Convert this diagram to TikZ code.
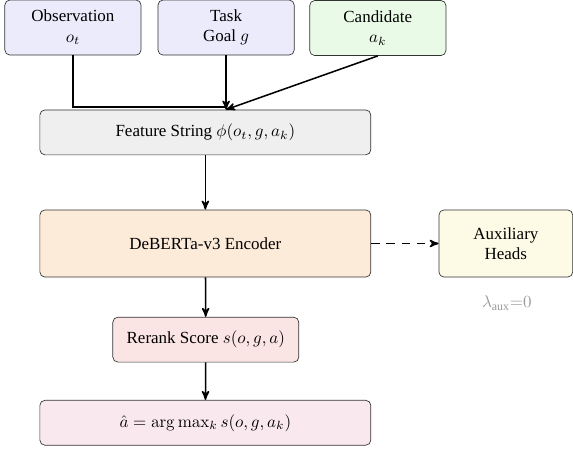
\documentclass[tikz,border=0pt]{standalone}
\usepackage{amsmath}
\usepackage[no-math]{fontspec}
\setmainfont{Liberation Serif}
\usepackage{tikz}
\usetikzlibrary{positioning}
\usetikzlibrary{arrows}
\definecolor{inblue}{HTML}{EBEBFC}
\definecolor{candgreen}{HTML}{E9FBE6}
\definecolor{featgray}{HTML}{EFEFEF}
\definecolor{encorange}{HTML}{FDEBD9}
\definecolor{auxyellow}{HTML}{FDFBE6}
\definecolor{scorered}{HTML}{FBE4E4}
\definecolor{argpink}{HTML}{F9E9EE}
\tikzset{every edge/.style={ % Sets the properties for each connector
    draw,
    ->,>=stealth', % Directed edges with bold arrowheads
    thick}}

\begin{document}
\begin{tikzpicture}[
            stagebox/.style={rectangle, rounded corners=3pt, draw=black!80, minimum height=0.93cm, align=center},
            inputbox/.style={stagebox, minimum width=2.82cm, minimum height=1.14cm},
            widebox/.style={stagebox, minimum width=6.85cm},
            flow/.style={line width=0.9pt, ->, >=stealth'}
        ]
        \useasboundingbox (0,0) rectangle (11.86,-9.31);

        % Inputs
        \node[inputbox, fill=inblue] (obs) at (1.51,-0.57) {Observation\\ $o_t$};
        \node[inputbox, fill=inblue] (task) at (4.68,-0.57) {Task\\ Goal $g$};
        \node[inputbox, fill=candgreen] (cand) at (7.82,-0.58) {Candidate\\ $a_k$};

        % Pipeline
        \node[widebox, fill=featgray] (feat) at (4.25,-2.74) {Feature String $\phi(o_t, g, a_k)$};
        \node[widebox, fill=encorange, minimum height=1.39cm] (enc) at (4.25,-5.04) {DeBERTa-v3 Encoder};
        \node[stagebox, fill=auxyellow, minimum width=2.77cm, minimum height=1.39cm] (aux) at (10.47,-5.04) {Auxiliary\\ Heads};
        \node[text=black!40] (lam) at (10.49,-6.27) {$\lambda_{\text{aux}}{=}0$};
        \node[stagebox, fill=scorered, minimum width=3.85cm] (score) at (4.26,-7.03) {Rerank Score $s(o, g, a)$};
        \node[widebox, fill=argpink] (pick) at (4.25,-8.75) {$\hat{a} = \arg\max_k s(o, g, a_k)$};

        \coordinate (join) at (task.south |- feat.north);
        \coordinate (bend) at (4.68,-2.21);

        % Inputs into the feature string
        \draw[line width=0.9pt] (obs.south) |- (bend);
        \draw[flow] (task.south) -- (join);
        \draw[flow] (cand.south) -- (join);

        % Main path
        \draw[flow] (feat) -- (enc);
        \draw[flow] (enc) -- (score);
        \draw[flow] (score) -- (pick);

        % Auxiliary branch (dashed)
        \draw[flow, dash pattern=on 5pt off 4pt] (enc) -- (aux);

    \end{tikzpicture}
\end{document}
